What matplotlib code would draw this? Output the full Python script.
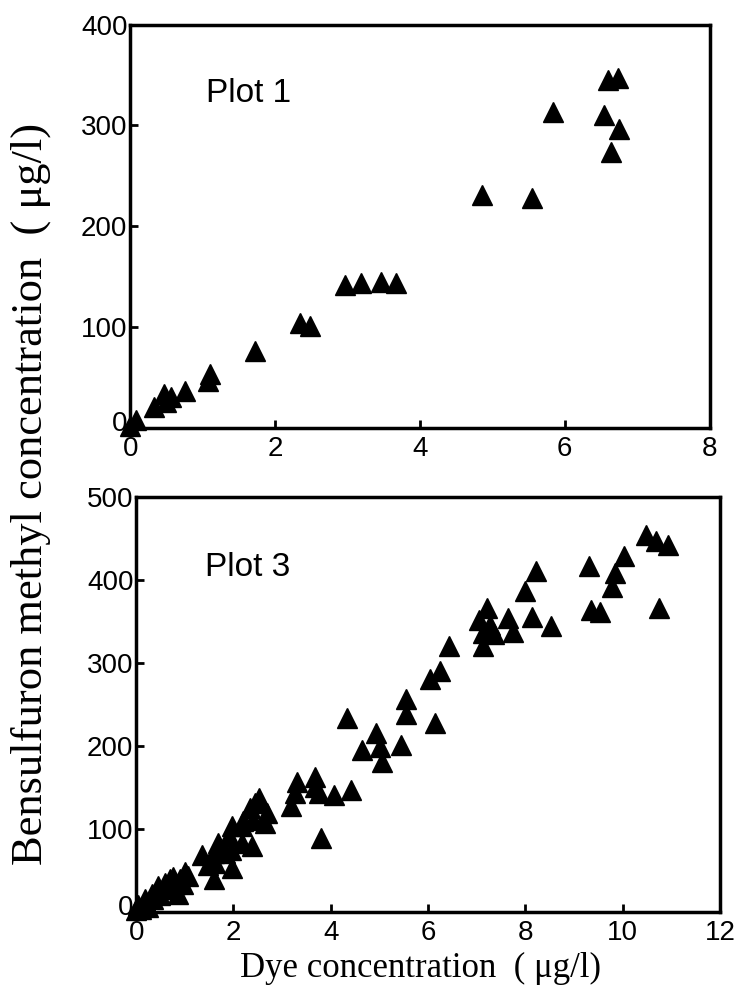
import numpy as np
import matplotlib
matplotlib.use("Agg")
import matplotlib.pyplot as plt
import matplotlib.transforms as mtransforms

# Plot 1 data (dye ug/l, bensulfuron methyl ug/l)
p1_dye = [0.0, 0.08, 0.33, 0.47, 0.50, 0.56, 0.76, 1.07, 1.10, 1.72, 2.34, 2.48,
          2.96, 3.18, 3.46, 3.67, 4.85, 5.55, 5.84, 6.54, 6.64, 6.75, 6.60, 6.74]
p1_bsm = [2, 8, 21, 33, 25, 30, 36, 46, 53, 76, 104, 101,
          142, 144, 145, 144, 231, 228, 313, 310, 274, 297, 345, 347]

# Plot 3 data
p3_dye = [10.47, 10.69, 10.93, 10.02, 9.85, 9.77, 9.30, 9.35, 9.53, 10.75,
          8.21, 8.00, 8.14, 8.52, 7.22, 7.05, 7.27, 7.64, 7.74, 7.12, 7.35, 7.13,
          6.43, 6.24, 6.04, 6.14, 5.54, 5.54, 5.44,
          4.34, 4.92, 4.65, 5.02, 5.06,
          3.31, 3.67, 3.68, 3.19, 3.27, 3.75, 4.06, 4.41, 3.79,
          2.45, 2.52, 2.34, 2.69, 2.65, 2.41, 1.97, 2.17, 1.90, 2.17, 2.38, 1.97,
          1.83, 1.59, 1.35, 1.62, 1.59, 1.69, 1.48, 1.95, 2.20,
          1.07, 0.90, 0.69, 0.87, 0.59, 0.45, 0.32, 0.18, 0.04, 0.0, 0.97, 0.80,
          0.25, 0.10, 0.20, 0.35, 0.50, 0.60, 0.75, 1.00]
p3_bsm = [454, 447, 442, 429, 408, 392, 417, 364, 361, 366,
          411, 387, 355, 344, 366, 352, 346, 354, 337, 336, 335, 320,
          320, 290, 280, 227, 257, 239, 201,
          233, 215, 195, 199, 181,
          157, 163, 151, 127, 143, 143, 141, 147, 89,
          131, 137, 125, 119, 107, 111, 103, 103, 91, 83, 79, 53,
          71, 71, 69, 59, 39, 83, 57, 75, 110,
          43, 39, 39, 22, 27, 31, 22, 16, 8, 2, 33, 33,
          6, 3, 10, 15, 20, 35, 42, 48]

plt.rcParams['font.family'] = ['Liberation Sans', 'DejaVu Sans']

fig = plt.figure(figsize=(7.4, 9.9), dpi=100)
ax1 = fig.add_axes([0.176, 0.568, 0.783, 0.407])
ax3 = fig.add_axes([0.184, 0.079, 0.789, 0.419])


def style(ax, xmax, ymax, xstep, ystep):
    ax.set_xlim(0, xmax)
    ax.set_ylim(0, ymax)
    ax.set_xticks(np.arange(0, xmax + 1, xstep))
    ax.set_yticks(np.arange(0, ymax + 1, ystep))
    ax.tick_params(direction='in', length=6, width=2, labelsize=20)
    ax.tick_params(axis='x', pad=6)
    ax.tick_params(axis='y', pad=2)
    for s in ax.spines.values():
        s.set_linewidth(2.5)
    # lift the y "0" a little so it clears the x "0" at the corner
    lbl = ax.get_yticklabels()[0]
    lbl.set_transform(lbl.get_transform() +
                      mtransforms.ScaledTranslation(0, 5 / 72, fig.dpi_scale_trans))


ax1.plot(p1_dye, p1_bsm, '^', color='black', ms=14, clip_on=False)
style(ax1, 8, 400, 2, 100)
ax1.text(0.13, 0.83, 'Plot 1', transform=ax1.transAxes, fontsize=24, va='center')

ax3.plot(p3_dye, p3_bsm, '^', color='black', ms=14, clip_on=False)
style(ax3, 12, 500, 2, 100)
ax3.text(0.118, 0.83, 'Plot 3', transform=ax3.transAxes, fontsize=24, va='center')

fig.text(0.041, 0.501, 'Bensulfuron methyl concentration  ( \u03bcg/l)', rotation=90,
         ha='center', va='center', fontsize=32, family='Liberation Serif')
fig.text(0.568, 0.022, 'Dye concentration  ( \u03bcg/l)', ha='center', va='center',
         fontsize=25, family='Liberation Serif')

fig.savefig('out.png', dpi=100)
